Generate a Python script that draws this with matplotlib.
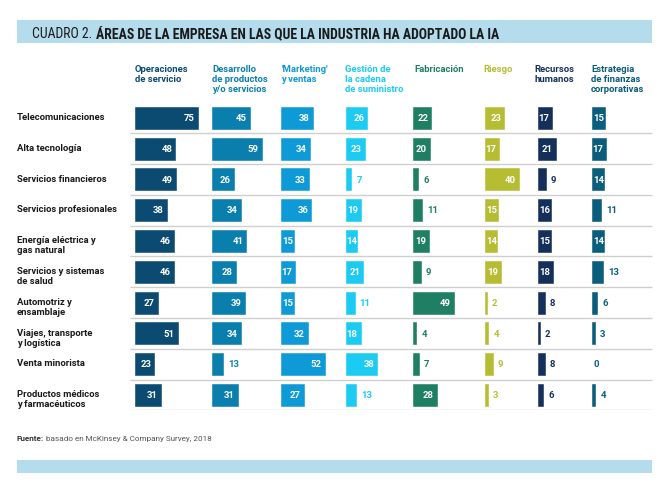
import os
import matplotlib
matplotlib.use("Agg")
import matplotlib.pyplot as plt
from matplotlib.patches import Rectangle
from matplotlib import font_manager
from matplotlib.font_manager import FontProperties

# industrias (filas)
industrias = ["Telecomunicaciones", "Alta tecnología", "Servicios financieros",
              "Servicios profesionales", "Energía eléctrica y\ngas natural",
              "Servicios y sistemas\nde salud", "Automotriz y\nensamblaje",
              "Viajes, transporte\ny logística", "Venta minorista",
              "Productos médicos\ny farmacéuticos"]

# areas de la empresa (columnas)
areas = ["Operaciones\nde servicio", "Desarrollo\nde productos\ny/o servicios",
         "'Marketing'\ny ventas", "Gestión de\nla cadena\nde suministro",
         "Fabricación", "Riesgo", "Recursos\nhumanos",
         "Estrategia\nde finanzas\ncorporativas"]

operaciones = [75, 48, 49, 38, 46, 46, 27, 51, 23, 31]
desarrollo = [45, 59, 26, 34, 41, 28, 39, 34, 13, 31]
marketing = [38, 34, 33, 36, 15, 17, 15, 32, 52, 27]
suministro = [26, 23, 7, 19, 14, 21, 11, 18, 38, 13]
fabricacion = [22, 20, 6, 11, 19, 9, 49, 4, 7, 28]
riesgo = [23, 17, 40, 15, 14, 19, 2, 4, 9, 3]
rrhh = [17, 21, 9, 16, 15, 18, 8, 2, 8, 6]
finanzas = [15, 17, 14, 11, 14, 13, 6, 3, 0, 4]
series = [operaciones, desarrollo, marketing, suministro,
          fabricacion, riesgo, rrhh, finanzas]

colores = ["#0b4a71", "#0a7fae", "#0e9ad6", "#1bcbf2",
           "#1f7f62", "#b6bd33", "#14305a", "#0a5d7b"]

titulo_1 = "CUADRO 2."
titulo_2 = "ÁREAS DE LA EMPRESA EN LAS QUE LA INDUSTRIA HA ADOPTADO LA IA"
fuente_1 = "Fuente:"
fuente_2 = "basado en McKinsey & Company Survey, 2018"

# layout en pixeles
W, H = 665, 492
col_x = [135, 212, 281, 345.5, 413, 485, 538, 592]
head_x = [135, 212.5, 281.5, 345, 414, 483.5, 534.5, 591]
PX = 0.84      # pixeles por unidad
XMAX = 80
ROW_TOP, ROW_BOT = 102.4, 410.4
BAND = "#b5dcec"
TXT = "#1a1a1a"
FS = 6.8

fonts = font_manager.fontManager.ttflist


def pick_font(names, weight, narrow, size):
    # elige un archivo concreto para que no cambie entre ejecuciones
    for name in names:
        for f in sorted(fonts, key=lambda f: f.fname):
            base = os.path.basename(f.fname).lower()
            if any(s in base for s in ("mono", "slab", "italic", "oblique", "flex")):
                continue
            nar = "condensed" in base or "narrow" in base or "condensed" in str(f.stretch)
            w = f.weight if isinstance(f.weight, int) else font_manager.weight_dict.get(f.weight, 400)
            if f.name == name and nar == narrow and w == weight and f.style == "normal":
                return FontProperties(fname=f.fname, size=size)
    return FontProperties(family="DejaVu Sans", weight=weight, size=size)


narrow_names = ["Roboto Condensed", "Roboto", "Liberation Sans Narrow", "DejaVu Sans"]
f_bold = pick_font(["Roboto", "DejaVu Sans"], 700, False, FS)
f_foot_b = pick_font(["Roboto", "DejaVu Sans"], 700, False, 5.9)
f_foot = pick_font(["Roboto", "DejaVu Sans"], 400, False, 5.9)
f_tit_b = pick_font(narrow_names, 700, True, 12)
f_tit = pick_font(narrow_names, 400, True, 12)


def px_box(x0, x1):
    return [x0 / W, 1 - ROW_BOT / H, (x1 - x0) / W, (ROW_BOT - ROW_TOP) / H]


fig = plt.figure(figsize=(W / 100, H / 100), dpi=100)
r = fig.canvas.get_renderer()

bg = fig.add_axes([0, 0, 1, 1])
bg.set_xlim(0, W)
bg.set_ylim(H, 0)
bg.axis("off")

# bandas
bg.add_patch(Rectangle((16.7, 20), 635, 22.7, color=BAND, lw=0))
bg.add_patch(Rectangle((16.7, 460), 635, 13.3, color=BAND, lw=0))

# titulo, ajustado al ancho del original
t1 = bg.text(31.7, 38.3, titulo_1, fontproperties=f_tit, color=TXT, va="baseline")
t2 = bg.text(0, 38.3, titulo_2, fontproperties=f_tit_b, color=TXT, va="baseline")
fs = 12
for _ in range(4):
    t1.set_fontsize(fs)
    t2.set_fontsize(fs)
    w1 = t1.get_window_extent(r).width
    t2.set_x(31.7 + w1 + 4)
    w2 = t2.get_window_extent(r).width
    fs = fs * (465 - 4) / (w1 + w2)

# encabezados
for name, hx, c in zip(areas, head_x, colores):
    for k, line in enumerate(name.split("\n")):
        bg.text(hx, 71.7 + 10 * k, line, color=c, fontproperties=f_bold,
                va="baseline", ha="left")

# filas
n = len(industrias)
rows = fig.add_axes(px_box(0, W))
rows.set_xlim(0, W)
rows.set_ylim(n - 0.5, -0.5)
rows.axis("off")
rows.hlines([i + 0.5 for i in range(n)], 130, 651.7, color="#cfcfcf", lw=1.0)
for i, name in enumerate(industrias):
    for k, line in enumerate(name.split("\n")):
        rows.annotate(line, (17, i), xytext=(0, -2.3 - 10 * k), textcoords="offset pixels",
                      va="baseline", ha="left", fontproperties=f_bold, color=TXT)

# barras por columna
for vals, cx, c in zip(series, col_x, colores):
    ax = fig.add_axes(px_box(cx, cx + XMAX * PX))
    ax.set_xlim(0, XMAX)
    ax.set_ylim(n - 0.5, -0.5)
    ax.axis("off")
    ax.barh(range(n), vals, height=0.71, color=c, edgecolor=c,
            lw=[0.4 if v > 0 else 0 for v in vals])
    for i, v in enumerate(vals):
        kw = dict(textcoords="offset pixels", va="baseline", fontproperties=f_bold)
        if v >= 17:
            ax.annotate(str(v), (v, i), xytext=(-3, -3.3), ha="right", color="white", **kw)
        elif v >= 14:
            ax.annotate(str(v), (0, i), xytext=(1, -3.3), ha="left", color="white", **kw)
        elif v > 0:
            ax.annotate(str(v), (v, i), xytext=(5, -3.3), ha="left", color=c, **kw)
        else:
            ax.annotate(str(v), (0, i), xytext=(1, -3.3), ha="left", color=c, **kw)

# fuente
f1 = bg.text(16.7, 441.3, fuente_1, fontproperties=f_foot_b, color="#333333", va="baseline")
wf = f1.get_window_extent(r).width
bg.text(16.7 + wf + 2.5, 441.3, fuente_2, fontproperties=f_foot,
        color="#555555", va="baseline")

fig.savefig("out.png", dpi=100)
